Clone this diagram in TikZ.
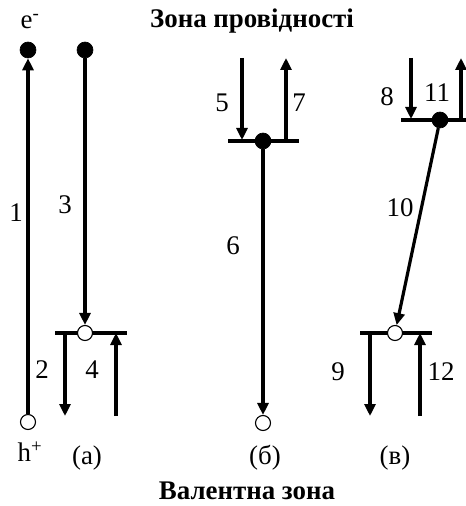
\documentclass[tikz,border=0pt]{standalone}
\usepackage{fontspec}
\setmainfont{Liberation Serif}
\usetikzlibrary{arrows.meta}
\tikzset{
  elec/.style={circle,fill=black,draw=black,line width=0.6bp,minimum size=16bp,inner sep=0pt},
  hole/.style={circle,fill=white,draw=black,line width=1.1bp,minimum size=15bp,inner sep=0pt},
  lvl/.style={line width=3.2bp},
  arr/.style={line width=3.2bp,-{Triangle[length=12bp,width=11bp]}},
  lbl/.style={font=\fontsize{27}{27}\selectfont,inner sep=0pt},
  ttl/.style={font=\fontsize{27}{27}\selectfont\bfseries,inner sep=0pt}
}
\begin{document}
\begin{tikzpicture}[x=1bp,y=-1bp]
\useasboundingbox (0,0) rectangle (466,506);

% titles
\node[ttl] (top) at (252,21) {Зона провідності};
\node[ttl] (bot) at (247,491) {Валентна зона};

% ---- panel (a) ----
\draw[lvl] (55,333) -- (127,333);
\node[elec] (ea) at (28,50) {};
\node[elec] (eb) at (85,50) {};
\node[hole] (ha) at (28,422) {};
\node[hole] (hb) at (85,333) {};
\draw[arr] (ha) -- (ea);
\draw[arr] (eb) -- (hb);
\coordinate (a2s) at (65,333);
\coordinate (a2e) at (65,416);
\coordinate (a4s) at (116,416);
\coordinate (a4e) at (116,333);
\draw[arr] (a2s) -- (a2e);
\draw[arr] (a4s) -- (a4e);
\node[lbl] (le) at (30,22) {e\textsuperscript{-}};
\node[lbl] (lh) at (30,452) {h\textsuperscript{+}};
\node[lbl] (l1) at (16,213) {1};
\node[lbl] (l3) at (65,205) {3};
\node[lbl] (l2) at (42,370) {2};
\node[lbl] (l4) at (92,370) {4};
\node[lbl] (pa) at (87,458) {(а)};

% ---- panel (б) ----
\draw[lvl] (228,141) -- (299,141);
\node[elec] (ec) at (263,141) {};
\node[hole] (hc) at (263,423) {};
\draw[arr] (ec) -- (hc);
\coordinate (a5s) at (242,58);
\coordinate (a5e) at (242,140);
\coordinate (a7s) at (286,140);
\coordinate (a7e) at (286,58);
\draw[arr] (a5s) -- (a5e);
\draw[arr] (a7s) -- (a7e);
\node[lbl] (l5) at (222,103) {5};
\node[lbl] (l7) at (299,103) {7};
\node[lbl] (l6) at (233,246) {6};
\node[lbl] (pb) at (265,458) {(б)};

% ---- panel (в) ----
\draw[lvl] (401,120) -- (466,120);
\draw[lvl] (360,333) -- (432,333);
\node[elec] (ed) at (440,120) {};
\node[hole] (hd) at (395,333) {};
\draw[arr] (ed) -- (hd);
\coordinate (a8s) at (411,58);
\coordinate (a8e) at (411,119);
\coordinate (a11s) at (461,119);
\coordinate (a11e) at (461,58);
\draw[arr] (a8s) -- (a8e);
\draw[arr] (a11s) -- (a11e);
\coordinate (a9s) at (370,333);
\coordinate (a9e) at (370,416);
\coordinate (a12s) at (420,416);
\coordinate (a12e) at (420,333);
\draw[arr] (a9s) -- (a9e);
\draw[arr] (a12s) -- (a12e);
\node[lbl] (l8) at (387,97) {8};
\node[lbl] (l11) at (437,93) {11};
\node[lbl] (l10) at (400,208) {10};
\node[lbl] (l9) at (338,372) {9};
\node[lbl] (l12) at (441,372) {12};
\node[lbl] (pc) at (395,458) {(в)};
\end{tikzpicture}
\end{document}
